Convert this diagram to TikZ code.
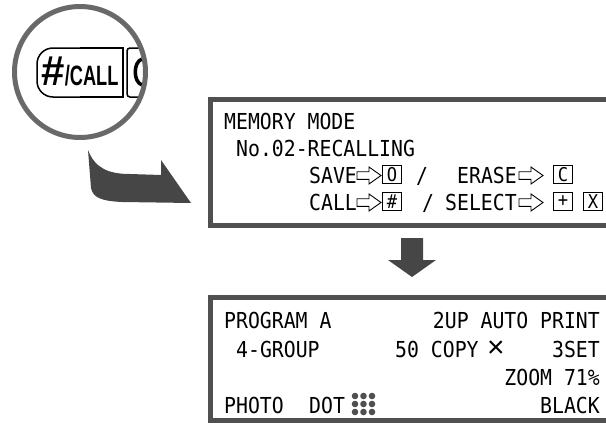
\documentclass[tikz,border=0pt]{standalone}
\usepackage{fontspec}
\usepackage{tikz}
\usepackage{xcolor}
\usetikzlibrary{positioning,calc}
\newfontfamily\lcdfont[FakeStretch=0.9]{DejaVu Sans Mono}
\newfontfamily\keyfont[FakeStretch=0.65]{Liberation Sans}
\newfontfamily\hashfont{Liberation Sans}
\definecolor{screengray}{RGB}{80, 80, 80}
\definecolor{ringgray}{RGB}{105, 105, 105}
\definecolor{arrowgray}{RGB}{70, 70, 70}

\begin{document}
\begin{tikzpicture}[
    x=1pt, y=-1pt,
    panel/.style={rectangle, draw=screengray, line width=5, fill=white, anchor=north west, minimum width=440},
    lens/.style={circle, draw=ringgray, line width=5, minimum size=131, inner sep=0},
    lcd/.style={anchor=base west, inner sep=0, font=\lcdfont\fontsize{22}{26}\selectfont},
    lcdright/.style={lcd, anchor=base east},
    keybox/.style={rectangle, draw, line width=1.1, minimum width=19, minimum height=18, inner sep=0, font=\lcdfont\fontsize{19}{19}\selectfont},
    keyarrow/.pic={\draw[line width=0.9, fill=white] (0,-3.8) -- (12,-3.8) -- (12,-8.5) -- (24,0) -- (12,8.5) -- (12,3.8) -- (0,3.8) -- cycle;}
]
\useasboundingbox (0,0) rectangle (606,423);
\clip (0,0) rectangle (606,423);

% Magnified key
\node[lens] (lens) at (80,72) {};
\begin{scope}
\clip (lens.center) circle[radius=63pt];
\draw[line width=1.5, rounded corners=16] (80,48) -- (37,48) -- (37,97) -- (80,97);
\draw[line width=1.5] (80,48) -- (123,48) -- (123,97) -- (80,97);
\draw[line width=1.5, rounded corners=3] (160,48) -- (127,48) -- (127,97) -- (160,97);
\draw[line width=3.5] (142,59) .. controls (133,62) and (133,82) .. (142,85);
\node[inner sep=0] (call_key) at (80,71) {\hashfont\bfseries\fontsize{42}{42}\selectfont\#\keyfont\fontsize{28}{28}\selectfont/CALL};
\end{scope}

% Curved arrow to the memory screen
\fill[arrowgray] (88,150) .. controls (95,168) and (108,174) .. (130,174) -- (161,175) -- (161,160) -- (191,203) -- (122,202) .. controls (102,201) and (93,198) .. (91,188) -- cycle;

% Memory screen
\node[panel, minimum height=126] (memory_panel) at (208,97) {};
\node[lcd] (mem_title) at (224,129) {MEMORY MODE};
\node[lcd] (mem_no) at (236,156) {No.02-RECALLING};
\node[lcd] (save_lbl) at (309,183) {SAVE};
\pic at (357,175.5) {keyarrow};
\node[keybox] (key_o) at (392,174.5) {O};
\node[lcd, anchor=base] (slash_a) at (422,183) {/};
\node[lcd] (erase_lbl) at (457,183) {ERASE};
\pic at (519,175.5) {keyarrow};
\node[keybox] (key_c) at (563,174.5) {C};
\node[lcd] (call_lbl) at (309,210) {CALL};
\pic at (357,202.5) {keyarrow};
\node[keybox] (key_hash) at (392,201.5) {\#};
\node[lcd, anchor=base] (slash_b) at (428,210) {/};
\node[lcd] (select_lbl) at (445,210) {SELECT};
\pic at (519,202.5) {keyarrow};
\node[keybox] (key_plus) at (563,201.5) {+};
\node[keybox] (key_x) at (593,201.5) {X};

% Down arrow
\fill[arrowgray] (401,238) -- (423,238) -- (423,260) -- (436,260) -- (412,277) -- (388,260) -- (401,260) -- cycle;

% Program screen
\node[panel, minimum height=123] (program_panel) at (208,295) {};
\node[lcd] (prog_lbl) at (224,328) {PROGRAM A};
\node[lcdright] (print_lbl) at (600,328) {2UP AUTO PRINT};
\node[lcd] (group_lbl) at (236,357) {4-GROUP};
\node[lcd] (copy_lbl) at (395,357) {50 COPY};
\node[inner sep=0, font=\hashfont\fontsize{30}{30}\selectfont] (times_sym) at (496,349) {×};
\node[lcdright] (set_lbl) at (600,357) {3SET};
\node[lcdright] (zoom_lbl) at (600,385) {ZOOM 71\%};
\node[lcd] (photo_lbl) at (224,413) {PHOTO};
\node[lcd] (dot_lbl) at (309,413) {DOT};
\foreach \i in {0,1,2}
  \foreach \j in {0,1,2}
    \fill[screengray] (355+8.5*\i,396+8*\j) circle[radius=3.3pt];
\node[lcdright] (black_lbl) at (600,413) {BLACK};

\end{tikzpicture}
\end{document}
